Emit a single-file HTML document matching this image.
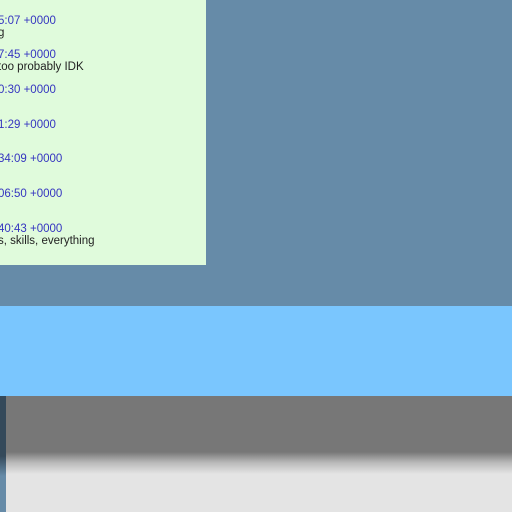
<!DOCTYPE html>
<html><head><meta charset="utf-8"><style>
body{margin:0;width:512px;height:512px;overflow:hidden;background:#668ba8;position:relative;font-family:"Liberation Sans",sans-serif}
#panel{position:absolute;left:0;top:0;width:206px;height:265px;background:#e0fbdc;overflow:hidden}
.t{position:absolute;left:-2px;font-size:11.5px;white-space:nowrap;line-height:12px}
.b{color:#3535c0}.k{color:#222}
#blue{position:absolute;left:0;top:306px;width:512px;height:90px;background:#7ac6fe}
#gray{position:absolute;left:0;top:396px;width:512px;height:116px;background:linear-gradient(#777 0,#777 56px,#bbb 67px,#e4e4e4 78px,#e4e4e4 100%)}
#strip{position:absolute;left:0;top:396px;width:6px;height:116px;background:linear-gradient(#34495a 0,#34495a 60px,#668ba8 80px)}
</style></head><body>
<div id="panel">
<div class="t b" style="top:15px">5:07 +0000</div>
<div class="t k" style="top:27px">g</div>
<div class="t b" style="top:49px">7:45 +0000</div>
<div class="t k" style="top:61px">too probably IDK</div>
<div class="t b" style="top:84px">0:30 +0000</div>
<div class="t b" style="top:119px">1:29 +0000</div>
<div class="t b" style="top:153px">34:09 +0000</div>
<div class="t b" style="top:188px">06:50 +0000</div>
<div class="t b" style="top:223px">40:43 +0000</div>
<div class="t k" style="top:235px">s, skills, everything</div>
</div>
<div id="blue"></div>
<div id="gray"></div>
<div id="strip"></div>
</body></html>
